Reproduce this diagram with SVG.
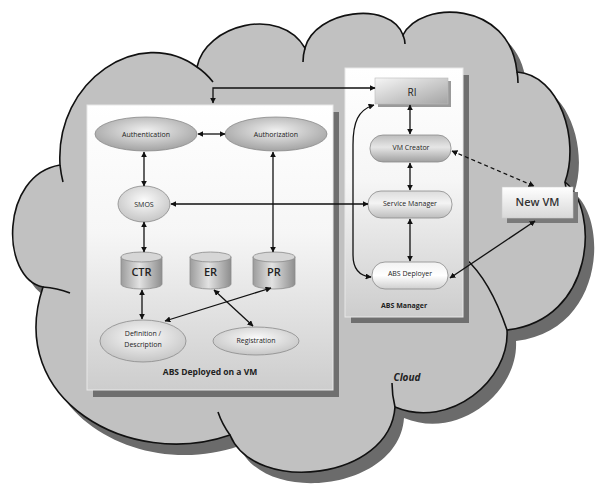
<svg xmlns="http://www.w3.org/2000/svg" width="595" height="493" viewBox="0 0 595 493">
<style>
text{font-family:"Open Sans","Liberation Sans",sans-serif;fill:#222;text-anchor:middle}
.s{font-size:7px}
.b{font-weight:bold}
.ln{fill:none;stroke:#111;stroke-width:1.3}
.edge{stroke:#8a8a8a;stroke-width:0.8}
</style>
<defs>
<marker id="ah" viewBox="0 0 10 10" refX="9" refY="5" markerWidth="6" markerHeight="6" markerUnits="userSpaceOnUse" orient="auto-start-reverse"><path d="M0,0 L10,5 L0,10 Z" fill="#111"/></marker>
<linearGradient id="boxG" x1="0" y1="0" x2="0" y2="1"><stop offset="0" stop-color="#ffffff"/><stop offset="0.45" stop-color="#f6f6f6"/><stop offset="1" stop-color="#cdcdcd"/></linearGradient>
<radialGradient id="dark" cx="0.5" cy="0.4" r="0.6"><stop offset="0" stop-color="#f0f0f0"/><stop offset="1" stop-color="#a3a3a3"/></radialGradient>
<radialGradient id="light" cx="0.5" cy="0.4" r="0.6"><stop offset="0" stop-color="#fbfbfb"/><stop offset="1" stop-color="#c6c6c6"/></radialGradient>
<linearGradient id="cyl" x1="0" y1="0" x2="1" y2="0"><stop offset="0" stop-color="#9c9c9c"/><stop offset="0.45" stop-color="#e2e2e2"/><stop offset="1" stop-color="#8e8e8e"/></linearGradient>
<linearGradient id="riG" x1="0" y1="0" x2="1" y2="1"><stop offset="0" stop-color="#f6f6f6"/><stop offset="1" stop-color="#a4a4a4"/></linearGradient>
<linearGradient id="pillD" x1="0" y1="0" x2="0" y2="1"><stop offset="0" stop-color="#bdbdbd"/><stop offset="0.45" stop-color="#e6e6e6"/><stop offset="1" stop-color="#a0a0a0"/></linearGradient>
<linearGradient id="pillL" x1="0" y1="0" x2="0" y2="1"><stop offset="0" stop-color="#dcdcdc"/><stop offset="0.45" stop-color="#f4f4f4"/><stop offset="1" stop-color="#bdbdbd"/></linearGradient>
<linearGradient id="pillW" x1="0" y1="0" x2="0" y2="1"><stop offset="0" stop-color="#f2f2f2"/><stop offset="0.5" stop-color="#ffffff"/><stop offset="1" stop-color="#cfcfcf"/></linearGradient>
<linearGradient id="vmG" x1="0" y1="0" x2="0" y2="1"><stop offset="0" stop-color="#ffffff"/><stop offset="1" stop-color="#d8d8d8"/></linearGradient>
<path id="cloudP" d="M43,287 C0,278 0,175 60,165 C55,80 140,25 197,67 C205,25 280,5 305,48 C315,10 390,0 403,35 C420,0 510,0 517,72 C560,75 580,140 565,182 C600,210 595,320 507,330 C510,380 450,430 395,407 C390,480 255,495 230,435 C130,470 5,400 43,287 Z"/>
</defs>

<g id="cloud">
<use href="#cloudP" transform="translate(9,11)" fill="#6b6b6b"/>
<use href="#cloudP" fill="#c1c1c1" stroke="#111" stroke-width="1.6"/>
<g fill="none" stroke="#111" stroke-width="1.6">
<path d="M60,165 Q61,174 63,182"/>
<path d="M197,67 Q206,73 213,82"/>
<path d="M305,48 Q303,55 303,62"/>
<path d="M403,35 Q405,40 405,44"/>
<path d="M517,72 Q518,77 518,83"/>
<path d="M565,182 Q566,188 567,194"/>
<path d="M465,258 Q490,280 507,330"/>
<path d="M395,407 Q392,395 392,383"/>
<path d="M230,435 Q222,424 218,412"/>
<path d="M43,287 Q57,288 70,293"/>
</g>
<text x="407" y="381" class="b" style="font-size:10px;font-style:italic">Cloud</text>
</g>

<g id="abs-vm">
<rect x="93" y="112" width="246" height="285" fill="#6f6f6f"/>
<rect x="87" y="105" width="246" height="285" fill="url(#boxG)" stroke="#e8e8e8" stroke-width="1"/>
<text x="210" y="375" class="b" style="font-size:8.5px">ABS Deployed on a VM</text>
</g>

<g id="abs-manager">
<rect x="351" y="75" width="118" height="248" fill="#6f6f6f"/>
<rect x="345" y="68" width="118" height="249" fill="url(#boxG)" stroke="#e8e8e8" stroke-width="1"/>
<text x="404" y="308" class="s b">ABS Manager</text>
</g>

<g id="authentication"><ellipse cx="146" cy="134" rx="51" ry="17" fill="url(#dark)" class="edge"/><text x="146" y="136.5" class="s">Authentication</text></g>
<g id="authorization"><ellipse cx="276" cy="134" rx="51" ry="17" fill="url(#dark)" class="edge"/><text x="276" y="136.5" class="s">Authorization</text></g>
<g id="smos"><ellipse cx="144" cy="204" rx="26" ry="18" fill="url(#light)" class="edge"/><text x="144" y="206.5" class="s">SMOS</text></g>

<g id="ctr"><path d="M121,257 V284 A20.5,5 0 0 0 162,284 V257 Z" fill="url(#cyl)" class="edge"/><ellipse cx="141.5" cy="257" rx="20.5" ry="5" fill="#d6d6d6" class="edge"/><text x="141.5" y="276" style="font-size:11px;font-weight:600">CTR</text></g>
<g id="er"><path d="M190,257 V284 A20.5,5 0 0 0 231,284 V257 Z" fill="url(#cyl)" class="edge"/><ellipse cx="210.5" cy="257" rx="20.5" ry="5" fill="#d6d6d6" class="edge"/><text x="210.5" y="276" style="font-size:11px;font-weight:600">ER</text></g>
<g id="pr"><path d="M253,257 V284 A21,5 0 0 0 295,284 V257 Z" fill="url(#cyl)" class="edge"/><ellipse cx="274" cy="257" rx="21" ry="5" fill="#d6d6d6" class="edge"/><text x="274" y="276" style="font-size:11px;font-weight:600">PR</text></g>

<g id="definition"><ellipse cx="143" cy="341" rx="43" ry="21" fill="url(#light)" class="edge"/><text x="143" y="336" class="s">Definition /</text><text x="143" y="347" class="s">Description</text></g>
<g id="registration"><ellipse cx="256" cy="341" rx="43" ry="14" fill="url(#light)" class="edge"/><text x="256" y="343" class="s">Registration</text></g>

<g id="ri"><rect x="378" y="81" width="73" height="26" fill="#9a9a9a"/><rect x="375" y="78" width="73" height="26" fill="url(#riG)" stroke="#bbb" stroke-width="0.6"/><text x="412" y="95.5" style="font-size:10px">RI</text></g>
<g id="vm-creator"><rect x="370" y="135" width="81" height="27" rx="13" fill="url(#pillD)" class="edge"/><text x="411" y="150" class="s">VM Creator</text></g>
<g id="service-manager"><rect x="368" y="191" width="84" height="27" rx="13" fill="url(#pillL)" class="edge"/><text x="410" y="206" class="s">Service Manager</text></g>
<g id="abs-deployer"><rect x="372" y="262" width="76" height="27" rx="13" fill="url(#pillW)" class="edge"/><text x="410" y="276" class="s">ABS Deployer</text></g>

<g id="new-vm"><rect x="507" y="192" width="71" height="31" fill="#7a7a7a"/><rect x="502" y="187" width="71" height="31" fill="url(#vmG)" stroke="#ccc" stroke-width="0.6"/><text x="537.5" y="206" style="font-size:11px;font-weight:600;fill:#333">New VM</text></g>

<g id="connectors" class="ln">
<path d="M213,103 V88 H375" class="ln" marker-start="url(#ah)" marker-end="url(#ah)"/>
<path d="M198,134 H225" class="ln" marker-start="url(#ah)" marker-end="url(#ah)"/>
<path d="M144,152 V186" class="ln" marker-start="url(#ah)" marker-end="url(#ah)"/>
<path d="M144,222 V252" class="ln" marker-start="url(#ah)" marker-end="url(#ah)"/>
<path d="M273,152 V252" class="ln" marker-start="url(#ah)" marker-end="url(#ah)"/>
<path d="M171,204 H368" class="ln" marker-start="url(#ah)" marker-end="url(#ah)"/>
<path d="M142,290 V319" class="ln" marker-start="url(#ah)" marker-end="url(#ah)"/>
<path d="M271,288 L165,321" class="ln" marker-start="url(#ah)" marker-end="url(#ah)"/>
<path d="M214,290 L253,326" class="ln" marker-start="url(#ah)" marker-end="url(#ah)"/>
<path d="M410,105 V134" class="ln" marker-start="url(#ah)" marker-end="url(#ah)"/>
<path d="M410,163 V190" class="ln" marker-start="url(#ah)" marker-end="url(#ah)"/>
<path d="M410,219 V261" class="ln" marker-start="url(#ah)" marker-end="url(#ah)"/>
<path d="M452,151 L534,186" class="ln" stroke-dasharray="4,3" marker-start="url(#ah)" marker-end="url(#ah)"/>
<path d="M450,278 L535,221" class="ln" marker-start="url(#ah)" marker-end="url(#ah)"/>
<path d="M374,105 C358,110 353,122 353,145 V255 C353,270 360,276 371,277" class="ln" marker-start="url(#ah)" marker-end="url(#ah)"/>
</g>
</svg>
